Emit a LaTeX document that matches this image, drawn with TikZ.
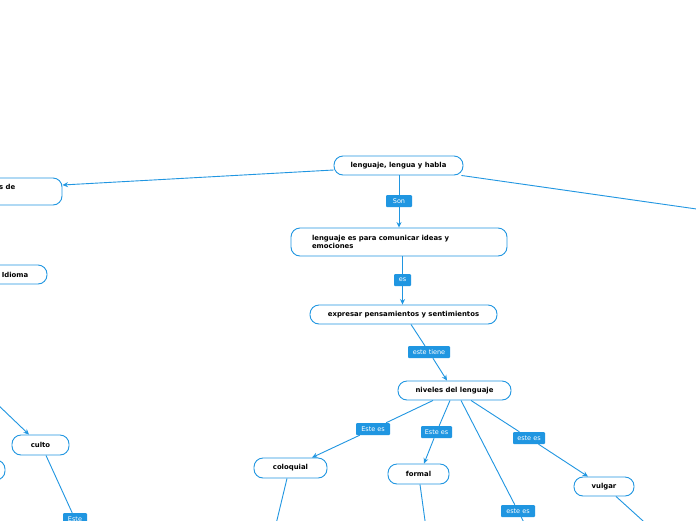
\documentclass[tikz,border=0pt]{standalone}
\usepackage{fontspec}
\setmainfont{DejaVu Sans}
\usetikzlibrary{arrows.meta}
\definecolor{mmblue}{RGB}{32,150,225}
\begin{document}
\begin{tikzpicture}[x=1pt,y=-1pt,
  box/.style={draw=mmblue, line width=0.9pt, rounded corners=9pt, fill=white,
    font=\fontsize{6.9}{8}\selectfont\bfseries, inner sep=0pt, text=black},
  lab/.style={fill=mmblue, text=white, font=\fontsize{6.5}{7}\selectfont,
    inner sep=0pt, minimum height=12pt, rounded corners=1pt},
  conn/.style={draw=mmblue, line width=0.9pt},
  arr/.style={conn, -{Stealth[length=5.5pt,width=5pt]}}]
\useasboundingbox (0,0) rectangle (696,520);
\clip (0,0) rectangle (696,520);
\fill[white] (0,0) rectangle (696,520);
% nodes
\node[box, minimum width=129pt, minimum height=19pt] (n1) at (398.5,165.5) {lenguaje, lengua y habla};
\node[box, minimum width=150pt, minimum height=27pt] (lb) at (-13,191.5) {};
\node[font=\fontsize{6.9}{8}\selectfont\bfseries, inner sep=0pt, anchor=west] (lbt) at (-1,187) {s de};
\node[box, minimum width=64pt, minimum height=19pt] (idioma) at (15,274.5) {Idioma};
\node[box, text width=174pt, inner xsep=21pt, align=left, minimum height=28pt] (n5) at (399,242) {lenguaje es para comunicar ideas y\\emociones};
\node[box, minimum width=187pt, minimum height=19pt] (n7) at (403.5,314.5) {expresar pensamientos y sentimientos};
\node[box, minimum width=113pt, minimum height=19pt] (n9) at (454.5,390.5) {niveles del lenguaje};
\node[box, minimum width=73pt, minimum height=20pt] (col) at (290.5,468) {coloquial};
\node[box, minimum width=61pt, minimum height=20pt] (form) at (418.5,474) {formal};
\node[box, minimum width=60pt, minimum height=19pt] (vulg) at (604,486.5) {vulgar};
\node[box, minimum width=57pt, minimum height=20pt] (culto) at (40.5,445) {culto};
\node[box, minimum width=70pt, minimum height=20pt] (part) at (-30,470) {};
% labels
\node[lab, minimum width=26pt] (son) at (399,201) {Son};
\node[lab, minimum width=17pt] (es) at (402.5,280) {es};
\node[lab, minimum width=42pt] (tiene) at (429,352) {este tiene};
\node[lab, minimum width=34pt] (l1) at (373,429) {Este es};
\node[lab, minimum width=31pt] (l2) at (436.5,432) {Este es};
\node[lab, minimum width=32pt] (l3) at (529,438) {este es};
\node[lab, minimum width=34pt] (l4) at (518,511) {este es};
\node[lab, minimum width=24pt] (este) at (75,519) {Este};
% free ends
\coordinate (rt) at (700,209.5);
\coordinate (tl) at (-5,402);
\coordinate (b4) at (525.3,525);
\coordinate (bcol) at (275.8,525);
\coordinate (bform) at (425.6,525);
\coordinate (bvul) at (647.5,525);
% connectors
\draw[arr] ([yshift=-4.5pt]n1.west) -- ([yshift=6.5pt]lb.east);
\draw[conn] ([xshift=-2pt]n1.south east) -- (rt);
\draw[conn] (son) -- (son |- n1.south);
\draw[arr] (son) -- (son |- n5.north);
\draw[conn] (es) -- (es |- n5.south);
\draw[arr] (es) -- (es |- n7.north);
\draw[conn] (tiene) -- ([xshift=7.5pt]n7.south);
\draw[arr] (tiene) -- ([xshift=-7.5pt]n9.north);
\draw[conn] (l1) -- ([xshift=-21.5pt]n9.south);
\draw[arr] (l1) -- ([xshift=21.5pt]col.north);
\draw[conn] (l2) -- ([xshift=-4.5pt]n9.south);
\draw[arr] (l2) -- ([xshift=5.5pt]form.north);
\draw[conn] (l3) -- ([xshift=16.5pt]n9.south);
\draw[arr] (l3) -- ([xshift=-16pt]vulg.north);
\draw[conn] (l4) -- ([xshift=6.5pt]n9.south);
\draw[conn] (l4) -- (b4);
\draw[conn] ([xshift=-3.5pt]col.south) -- (bcol);
\draw[conn] ([xshift=1.5pt]form.south) -- (bform);
\draw[conn] ([xshift=12pt]vulg.south) -- (bvul);
\draw[conn] ([xshift=5.5pt]culto.south) -- (este);
\draw[arr] (tl) -- ([xshift=-11.5pt]culto.north);
\end{tikzpicture}
\end{document}
